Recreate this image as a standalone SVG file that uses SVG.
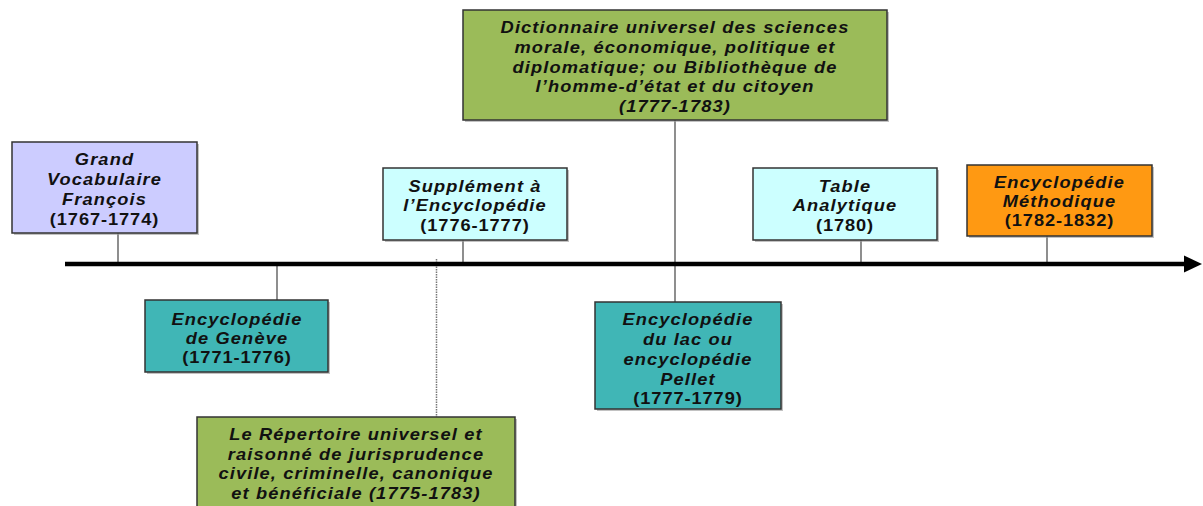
<svg xmlns="http://www.w3.org/2000/svg" width="1203" height="506" viewBox="0 0 1203 506">
<style>
.box{stroke:#333;stroke-width:1.5}
.sh{fill:#9a9a9a;opacity:0.6}
.t{font-family:"Liberation Sans",Arial,sans-serif;font-size:16px;font-weight:bold;font-style:italic;letter-spacing:1px;text-anchor:middle;fill:#111}
.n{font-style:normal;letter-spacing:0.8px}
.c{stroke:#444;stroke-width:1.2;fill:none}
</style>
<rect width="1203" height="506" fill="#fff"/>
<g id="connectors">
<line class="c" x1="118" y1="233" x2="118" y2="264"/>
<line class="c" x1="277" y1="264" x2="277" y2="300"/>
<line class="c" x1="463" y1="240" x2="463" y2="264"/>
<line class="c" x1="675" y1="120" x2="675" y2="302"/>
<line x1="436.5" y1="259" x2="436.5" y2="417" stroke="#777" stroke-width="1.5" stroke-dasharray="1.5,1"/>
<line class="c" x1="861" y1="240" x2="861" y2="264"/>
<line class="c" x1="1047" y1="236" x2="1047" y2="264"/>
<line x1="65" y1="264" x2="1188" y2="264" stroke="#000" stroke-width="4.5"/>
<path d="M1184,255.5 L1202,264 L1184,272.5 Z" fill="#000"/>
</g>
<g id="n1">
<rect class="sh" x="14" y="144" width="185" height="91"/>
<rect class="box" x="12" y="142" width="185" height="91" fill="#ccccff"/>
<g transform="translate(104.5 0) scale(1.14 1)">
<text class="t" x="0" y="165">Grand</text>
<text class="t" x="0" y="185">Vocabulaire</text>
<text class="t" x="0" y="205">François</text>
<text class="t n" x="0" y="225">(1767-1774)</text>
</g>
</g>
<g id="n2">
<rect class="sh" x="147" y="302" width="183" height="72"/>
<rect class="box" x="145" y="300" width="183" height="72" fill="#40b6b6"/>
<g transform="translate(237 0) scale(1.14 1)">
<text class="t" x="0" y="325">Encyclopédie</text>
<text class="t" x="0" y="344">de Genève</text>
<text class="t n" x="0" y="363">(1771-1776)</text>
</g>
</g>
<g id="n3">
<rect class="sh" x="385" y="170" width="184" height="72"/>
<rect class="box" x="383" y="168" width="184" height="72" fill="#ccffff"/>
<g transform="translate(475 0) scale(1.14 1)">
<text class="t" x="0" y="192">Supplément à</text>
<text class="t" x="0" y="211">l’Encyclopédie</text>
<text class="t n" x="0" y="231">(1776-1777)</text>
</g>
</g>
<g id="n4">
<rect class="sh" x="465" y="12" width="424" height="110"/>
<rect class="box" x="463" y="10" width="424" height="110" fill="#9bbb59"/>
<g transform="translate(675 0) scale(1.14 1)">
<text class="t" x="0" y="33">Dictionnaire universel des sciences</text>
<text class="t" x="0" y="53">morale, économique, politique et</text>
<text class="t" x="0" y="73">diplomatique; ou Bibliothèque de</text>
<text class="t" x="0" y="92">l’homme-d’état et du citoyen</text>
<text class="t" x="0" y="112">(1777-1783)</text>
</g>
</g>
<g id="n5">
<rect class="sh" x="199" y="419" width="318" height="95"/>
<rect class="box" x="197" y="417" width="318" height="95" fill="#9bbb59"/>
<g transform="translate(356 0) scale(1.14 1)">
<text class="t" x="0" y="440">Le Répertoire universel et</text>
<text class="t" x="0" y="460">raisonné de jurisprudence</text>
<text class="t" x="0" y="479">civile, criminelle, canonique</text>
<text class="t" x="0" y="499">et bénéficiale (1775-1783)</text>
</g>
</g>
<g id="n6">
<rect class="sh" x="597" y="304" width="186" height="107"/>
<rect class="box" x="595" y="302" width="186" height="107" fill="#40b6b6"/>
<g transform="translate(688 0) scale(1.14 1)">
<text class="t" x="0" y="325">Encyclopédie</text>
<text class="t" x="0" y="345">du lac ou</text>
<text class="t" x="0" y="365">encyclopédie</text>
<text class="t" x="0" y="385">Pellet</text>
<text class="t n" x="0" y="404">(1777-1779)</text>
</g>
</g>
<g id="n7">
<rect class="sh" x="755" y="170" width="184" height="72"/>
<rect class="box" x="753" y="168" width="184" height="72" fill="#ccffff"/>
<g transform="translate(845 0) scale(1.14 1)">
<text class="t" x="0" y="192">Table</text>
<text class="t" x="0" y="211">Analytique</text>
<text class="t n" x="0" y="231">(1780)</text>
</g>
</g>
<g id="n8">
<rect class="sh" x="969" y="167" width="185" height="71"/>
<rect class="box" x="967" y="165" width="185" height="71" fill="#ff9912"/>
<g transform="translate(1059.5 0) scale(1.14 1)">
<text class="t" x="0" y="188">Encyclopédie</text>
<text class="t" x="0" y="207">Méthodique</text>
<text class="t n" x="0" y="226">(1782-1832)</text>
</g>
</g>
</svg>
